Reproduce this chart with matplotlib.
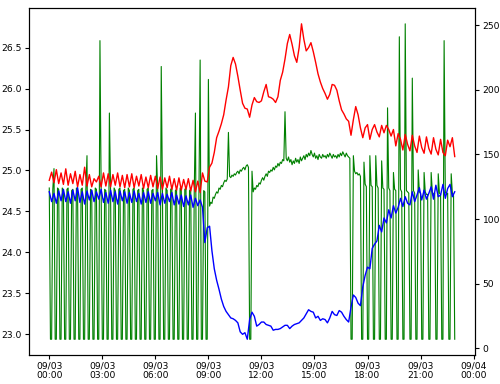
import numpy as np
import pandas as pd
import matplotlib
matplotlib.use('Agg')
import matplotlib.pyplot as plt
import matplotlib.dates as mdates

# temperatuur (linker as), elke 8 minuten
red = [24.88, 24.98, 24.85, 25.01, 24.84, 24.97, 24.83, 25.02,
       24.82, 24.96, 24.84, 24.99, 24.80, 24.95, 24.82, 25.04,
       24.81, 24.95, 24.80, 24.90, 24.86, 24.93, 24.80, 24.97,
       24.81, 24.96, 24.80, 24.95, 24.82, 24.97, 24.80, 24.94,
       24.79, 24.95, 24.80, 24.96, 24.79, 24.93, 24.81, 24.95,
       24.78, 24.92, 24.79, 24.94, 24.80, 24.93, 24.78, 24.92,
       24.77, 24.91, 24.79, 24.93, 24.77, 24.90, 24.76, 24.91,
       24.76, 24.89, 24.77, 24.90, 24.75, 24.88, 24.74, 24.87,
       24.73, 24.97, 24.87, 24.86, 25.04, 25.09, 25.22, 25.40,
       25.48, 25.57, 25.68, 25.86, 26.02, 26.28, 26.38, 26.30,
       26.15, 25.98, 25.82, 25.76, 25.75, 25.65, 25.80, 25.89,
       25.84, 25.83, 25.85, 25.96, 26.05, 25.90, 25.89, 25.87,
       25.83, 25.90, 26.10, 26.20, 26.36, 26.55, 26.66, 26.54,
       26.40, 26.32, 26.50, 26.79, 26.60, 26.46, 26.50, 26.56,
       26.45, 26.32, 26.18, 26.08, 26.00, 25.94, 25.87, 25.93,
       26.05, 26.04, 25.98, 25.85, 25.74, 25.69, 25.63, 25.60,
       25.43, 25.62, 25.78, 25.68, 25.52, 25.40, 25.52, 25.56,
       25.38, 25.50, 25.56, 25.47, 25.41, 25.55, 25.46, 25.55,
       25.50, 25.42, 25.50, 25.30, 25.45, 25.38, 25.25, 25.44,
       25.32, 25.24, 25.43, 25.30, 25.22, 25.42, 25.28, 25.21,
       25.41, 25.27, 25.20, 25.40, 25.26, 25.19, 25.38, 25.22,
       25.18, 25.37, 25.29, 25.40, 25.17]

blue = [24.74, 24.62, 24.72, 24.60, 24.75, 24.63, 24.77, 24.62,
        24.74, 24.60, 24.76, 24.63, 24.79, 24.61, 24.74, 24.59,
        24.75, 24.64, 24.76, 24.62, 24.74, 24.65, 24.77, 24.61,
        24.73, 24.60, 24.76, 24.62, 24.74, 24.59, 24.75, 24.63,
        24.74, 24.60, 24.73, 24.61, 24.75, 24.62, 24.72, 24.59,
        24.73, 24.61, 24.74, 24.60, 24.72, 24.63, 24.73, 24.58,
        24.72, 24.60, 24.71, 24.62, 24.73, 24.58, 24.70, 24.59,
        24.70, 24.56, 24.69, 24.58, 24.70, 24.55, 24.66, 24.57,
        24.64, 24.55, 24.12, 24.30, 24.32, 24.02, 23.80, 23.66,
        23.55, 23.43, 23.34, 23.28, 23.24, 23.20, 23.19, 23.17,
        23.14, 23.03, 23.00, 23.02, 22.94, 23.18, 23.27, 23.22,
        23.10, 23.12, 23.15, 23.15, 23.12, 23.11, 23.10, 23.05,
        23.06, 23.06, 23.07, 23.09, 23.11, 23.11, 23.07, 23.10,
        23.12, 23.13, 23.14, 23.17, 23.20, 23.25, 23.30, 23.28,
        23.27, 23.20, 23.22, 23.17, 23.19, 23.18, 23.14, 23.20,
        23.28, 23.24, 23.23, 23.29, 23.27, 23.22, 23.18, 23.15,
        23.33, 23.48, 23.45, 23.38, 23.35, 23.58, 23.72, 23.82,
        23.80, 24.05, 24.10, 24.14, 24.33, 24.25, 24.42, 24.36,
        24.52, 24.42, 24.57, 24.48, 24.55, 24.66, 24.56, 24.68,
        24.60, 24.58, 24.74, 24.62, 24.70, 24.79, 24.64, 24.76,
        24.65, 24.72, 24.80, 24.65, 24.82, 24.68, 24.70, 24.83,
        24.66, 24.78, 24.83, 24.68, 24.74]

# rechter as, elke 4 minuten
green = [124, 7, 7, 123, 139, 7, 7, 124, 123, 7, 7, 124, 122, 7, 7, 123,
         124, 7, 7, 122, 123, 7, 7, 124, 122, 7, 7, 123, 124, 7, 7, 122,
         149, 7, 7, 123, 122, 7, 7, 124, 123, 7, 7, 238, 124, 7, 7, 123,
         122, 7, 7, 182, 123, 7, 7, 124, 122, 7, 7, 123, 124, 7, 7, 122,
         123, 7, 7, 124, 122, 7, 7, 123, 124, 7, 7, 122, 123, 7, 7, 124,
         122, 7, 7, 123, 124, 7, 7, 122, 123, 7, 7, 149, 122, 7, 7, 218,
         123, 7, 7, 124, 122, 7, 7, 123, 124, 7, 7, 122, 123, 7, 7, 124,
         122, 7, 7, 123, 124, 7, 7, 122, 123, 7, 7, 121, 182, 7, 7, 122,
         223, 7, 7, 122, 121, 7, 7, 208,
         110, 113, 112, 117, 116, 119, 121, 120,
         124, 123, 126, 125, 128, 130, 129, 131,
         167, 133, 132, 134, 133, 135, 134, 136,
         137, 135, 138, 137, 139, 140, 138, 141,
         142, 140, 7, 7, 137, 121, 124, 123,
         126, 125, 128, 127, 130, 132, 130, 133,
         135, 133, 137, 136, 138, 137, 140, 138,
         141, 140, 143, 141, 144, 143, 146, 145,
         183, 147, 145, 148, 144, 146, 142, 145,
         143, 147, 144, 146, 143, 148, 145, 147,
         149, 146, 150, 148, 151, 149, 153, 150,
         148, 151, 147, 149, 146, 150, 148, 147,
         150, 148, 149, 147, 150, 148, 151, 149,
         147, 150, 148, 149, 147, 150, 148, 151,
         149, 152, 150, 148, 151, 149, 148, 147,
         7, 7, 149, 137, 135, 136, 134, 135,
         133, 7, 7, 144, 127, 125, 7, 7,
         149, 126, 125, 7, 7, 149, 126, 124,
         7, 7, 145, 124, 123, 7, 7, 186,
         124, 122, 7, 7, 136, 123, 122, 7,
         7, 241, 123, 121, 7, 7, 251, 122,
         121, 120, 7, 7, 209, 122, 120, 7,
         7, 138, 121, 120, 7, 7, 136, 121,
         119, 119, 7, 7, 136, 121, 119, 120,
         7, 7, 135, 120, 119, 7, 7, 238,
         121, 119, 120, 7, 7, 135, 120, 118,
         7]

t_temp = pd.date_range('2020-09-03 00:00', periods=len(red), freq='8min')
t_green = pd.date_range('2020-09-03 00:00', periods=len(green), freq='4min')

plt.rcParams['font.size'] = 6.6

fig = plt.figure(figsize=(5, 3.84), dpi=100)
ax = fig.add_axes([0.058, 0.0755, 0.892, 0.9035])
ax2 = ax.twinx()

ax2.plot(t_green, green, color='green', linewidth=0.8)
ax.plot(t_temp, red, color='red', linewidth=1.0)
ax.plot(t_temp, blue, color='blue', linewidth=1.0)

# rood/blauw boven groen
ax.set_zorder(ax2.get_zorder() + 1)
ax.patch.set_visible(False)

ax.set_yticks([23.0, 23.5, 24.0, 24.5, 25.0, 25.5, 26.0, 26.5])
ax.yaxis.set_major_formatter(matplotlib.ticker.FormatStrFormatter('%.1f'))
ax2.set_yticks([0, 50, 100, 150, 200, 250])

ax.xaxis.set_major_locator(mdates.HourLocator(byhour=range(0, 24, 3)))
ax.xaxis.set_major_formatter(mdates.DateFormatter('%m/%d\n%H:%M'))
ax.tick_params(axis='x', pad=2, length=3)
ax.tick_params(axis='y', pad=2.5, length=3)
ax2.tick_params(axis='y', pad=2.5, length=3)
for lab in ax.get_xticklabels():
    lab.set_linespacing(1.0)

fig.savefig('out.png', dpi=100)
